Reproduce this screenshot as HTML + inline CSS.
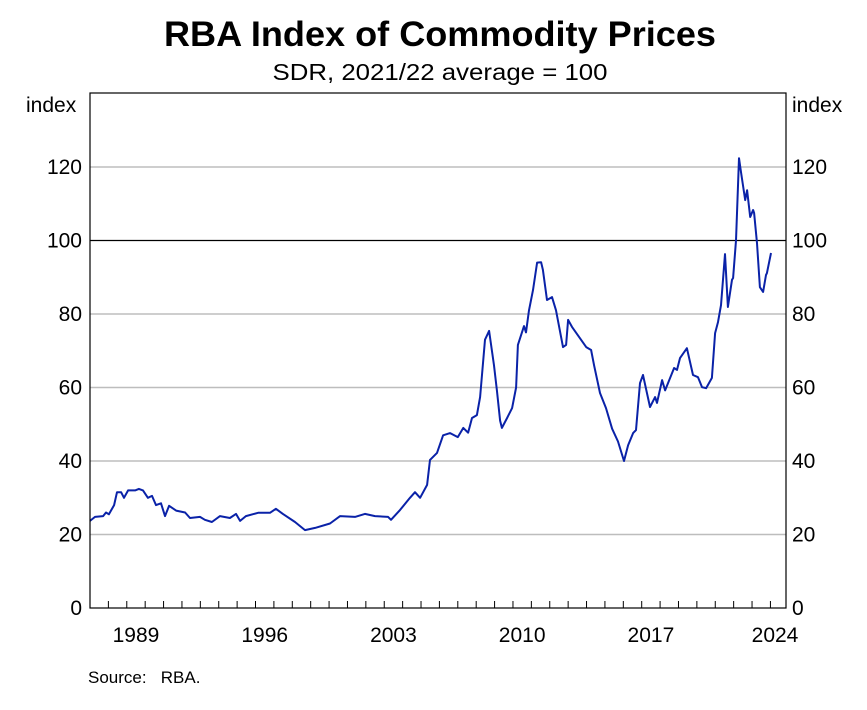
<!DOCTYPE html>
<html><head><meta charset="utf-8"><style>
body{margin:0;background:#fff;font-family:"Liberation Sans",Arial,sans-serif;}
</style></head><body>
<svg id="chart" width="867" height="705" xmlns="http://www.w3.org/2000/svg" font-family="Liberation Sans, Arial, sans-serif">
<text x="440" y="46" font-size="35" font-weight="bold" text-anchor="middle" textLength="552" lengthAdjust="spacingAndGlyphs">RBA Index of Commodity Prices</text>
<text x="440" y="80" font-size="23" text-anchor="middle" textLength="335" lengthAdjust="spacingAndGlyphs">SDR, 2021/22 average = 100</text>
<text x="26" y="112" font-size="21">index</text>
<text x="792" y="112" font-size="21">index</text>
<text x="88" y="683" font-size="17" xml:space="preserve">Source:   RBA.</text>
<g id="grid"></g><g id="ticks"></g><g id="series"></g>
<rect x="90" y="93" width="696" height="515" fill="none" stroke="#000" stroke-width="1.2"/>
</svg>
<script>
const yTicks=[0,20,40,60,80,100,120];
const xLabels=[1989,1996,2003,2010,2017,2024];
const years=[1986.00,1986.27,1986.71,1986.87,1987.03,1987.31,1987.47,1987.69,1987.85,1988.07,1988.45,1988.66,1988.88,1989.15,1989.37,1989.59,1989.86,1990.08,1990.30,1990.68,1991.17,1991.44,1991.98,1992.25,1992.63,1993.07,1993.61,1993.94,1994.16,1994.48,1995.14,1995.79,1996.11,1996.49,1997.15,1997.69,1998.24,1999.05,1999.60,2000.41,2000.95,2001.50,2002.21,2002.37,2002.86,2003.40,2003.67,2003.95,2004.33,2004.49,2004.87,2005.20,2005.58,2006.00,2006.30,2006.56,2006.77,2007.04,2007.21,2007.48,2007.70,2007.97,2008.13,2008.30,2008.40,2008.68,2008.95,2009.17,2009.27,2009.60,2009.71,2009.87,2010.09,2010.31,2010.53,2010.63,2010.85,2011.12,2011.34,2011.72,2011.89,2012.00,2012.21,2012.98,2013.25,2013.41,2013.73,2014.06,2014.39,2014.71,2015.04,2015.26,2015.53,2015.69,2015.91,2016.07,2016.45,2016.73,2016.83,2017.11,2017.27,2017.76,2017.92,2018.08,2018.46,2018.79,2019.06,2019.28,2019.50,2019.82,2019.99,2020.15,2020.31,2020.53,2020.69,2020.91,2020.97,2021.13,2021.29,2021.40,2021.63,2021.73,2021.90,2022.06,2022.11,2022.27,2022.43,2022.60,2022.76,2022.81,2023.03];
const values=[23.7,24.8,25,26,25.5,28,31.5,31.5,30,32,32,32.4,32,30,30.5,28,28.5,25,27.8,26.5,26,24.5,24.8,24,23.4,25,24.5,25.6,23.7,25,25.9,25.9,27,25.6,23.4,21.2,21.8,23,25,24.8,25.6,25,24.8,24,26.7,30,31.5,30,33.5,40.3,42.2,47,47.6,46.5,49,47.7,51.7,52.5,57.4,73,75.4,66,59,51,49,51.7,54.4,60,71.6,76.7,75,81,86.5,94,94.1,92,83.8,84.6,81,71,71.6,78.4,76.5,71,70.2,66,58.5,54.4,48.8,45.3,40,44.3,47.6,48.4,61.2,63.4,54.7,57.4,55.8,62,59.2,65.3,64.8,68,70.7,63.4,62.8,60.1,59.8,62.6,74.8,77.8,82.4,96.3,81.9,89.3,89.8,100,122.4,118.6,111,113.7,106.4,108.3,107.5,99.3,87.3,86,90.6,91.1,96.6];
const NS="http://www.w3.org/2000/svg";
const L=90,R=786,T=93,B=608,X0=1986,PX=18.39;
const sx=y=>L+(y-X0)*PX, sy=v=>B-v*(B-167)/120;
const grid=document.getElementById('grid'),ticks=document.getElementById('ticks'),ser=document.getElementById('series');
function mk(tag,attrs,parent){const e=document.createElementNS(NS,tag);for(const k in attrs)e.setAttribute(k,attrs[k]);parent.appendChild(e);return e;}
yTicks.forEach(v=>{
  if(v>0){const ln=mk('line',{x1:L,x2:R,y1:sy(v),y2:sy(v),stroke:v===100?'#000':'#bdbdbd','stroke-width':v===100?1.2:1.5},grid);
  
  }
  const a=mk('text',{x:82,y:sy(v)+7,'font-size':21,'text-anchor':'end'},ticks);a.textContent=v;
  
  
  const b=mk('text',{x:792,y:sy(v)+7,'font-size':21},ticks);b.textContent=v;
  
  
});
for(let y=1987;y<=2023;y++){const t=mk('line',{x1:sx(y),x2:sx(y),y1:B,y2:B-7,stroke:'#000','stroke-width':1},ticks);
  
  }
xLabels.forEach(y=>{const t=mk('text',{x:Math.min(sx(y-0.5),775),y:642,'font-size':21,'text-anchor':'middle'},ticks);t.textContent=y;
  
  });
const p=mk('path',{d:years.map((y,i)=>(i?'L':'M')+sx(y).toFixed(1)+','+sy(values[i]).toFixed(1)).join(''),fill:'none',stroke:'#0a22a8','stroke-width':2,'stroke-linejoin':'round'},ser);


</script>
</body></html>
